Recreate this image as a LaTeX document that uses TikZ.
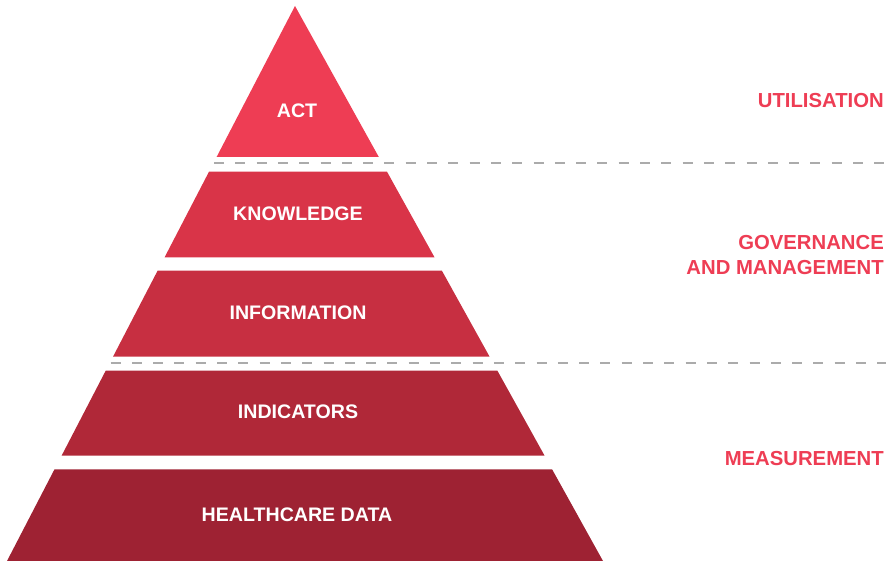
\documentclass[tikz,border=0pt]{standalone}
\usepackage{fontspec}
\setmainfont{Liberation Sans}
\begin{document}
\definecolor{actred}{HTML}{EE3D54}
\definecolor{knowred}{HTML}{D93448}
\definecolor{infored}{HTML}{C72F41}
\definecolor{indred}{HTML}{B02838}
\definecolor{datared}{HTML}{9E2233}
\definecolor{sepgray}{HTML}{ABABAB}
\begin{tikzpicture}[x=1pt,y=-1pt,
  layertext/.style={text=white,font=\bfseries\fontsize{19.6}{22}\selectfont,inner sep=0pt},
  sidelabel/.style={text=actred,font=\bfseries\fontsize{20.3}{25}\selectfont,inner sep=0pt,anchor=east,align=right},
  separator/.style={draw=sepgray,line width=1.8pt,dash pattern=on 10pt off 11.3pt}]
  \useasboundingbox (0,0) rectangle (886,561);

  % pyramid layers, top to bottom
  \fill[actred]  (295,6) -- (378.8,157) -- (216.6,157) -- cycle;
  \fill[knowred] (209.0,171.7) -- (387.0,171.7) -- (434.5,257.3) -- (164.6,257.3) -- cycle;
  \fill[infored] (157.6,270.7) -- (441.9,270.7) -- (489.6,356.7) -- (113.0,356.7) -- cycle;
  \fill[indred]  (105.7,370.7) -- (497.4,370.7) -- (544.6,455.7) -- (61.6,455.7) -- cycle;
  \fill[datared] (54.5,469.3) -- (552.1,469.3) -- (603,561) -- (7,561) -- cycle;

  % layer titles
  \node[layertext] (act)  at (297,111) {ACT};
  \node[layertext] (know) at (298,213.5) {KNOWLEDGE};
  \node[layertext] (info) at (298,312.5) {INFORMATION};
  \node[layertext] (ind)  at (298,411.5) {INDICATORS};
  \node[layertext] (data) at (297,514.7) {HEALTHCARE DATA};

  % dashed separators between the levels
  \coordinate (s1a) at (214,163.3);
  \coordinate (s1b) at (886,163.3);
  \coordinate (s2a) at (110.5,363.3);
  \coordinate (s2b) at (886,363.3);
  \draw[separator] (s1a) -- (s1b);
  \draw[separator] (s2a) -- (s2b);

  % level labels on the right
  \node[sidelabel] (util) at (884,101) {UTILISATION};
  \node[sidelabel] (gov)  at (884,255.5) {GOVERNANCE\\AND MANAGEMENT};
  \node[sidelabel] (meas) at (884,459) {MEASUREMENT};
\end{tikzpicture}
\end{document}
